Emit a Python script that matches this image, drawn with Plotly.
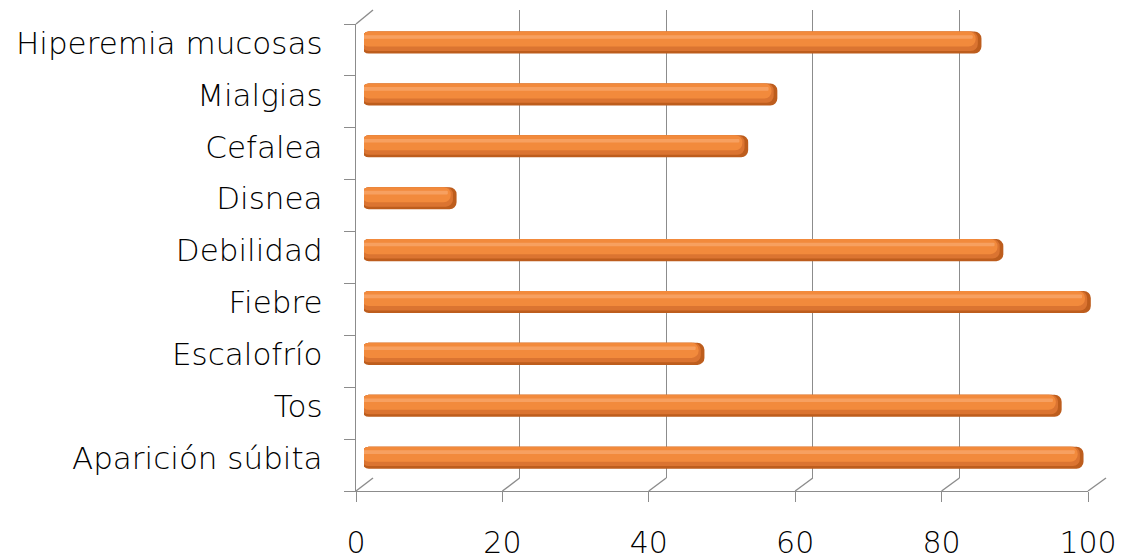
import plotly.graph_objects as go

# ---- data (bottom to top) ----
categories = ["Aparición súbita", "Tos", "Escalofrío", "Fiebre", "Debilidad",
              "Disnea", "Cefalea", "Mialgias", "Hiperemia mucosas"]
values = [99, 96, 47, 100, 88, 13, 53, 57, 85]
x_ticks = [0, 20, 40, 60, 80, 100]

W, H = 1122, 560
FONT = "DejaVu Sans"
GRID = "#8c8c8c"

def px(x):
    return x / W

def py(y):
    return 1 - y / H

# geometry of the pseudo-3D frame (pixels)
FRONT_X0, FRONT_X1 = 356, 1088      # front floor edge (labels)
BACK_X0, BACK_X1 = 373, 1106        # back wall (gridlines)
BAR_X0, BAR_X1 = 364, 1093          # bars (middle depth)
FRONT_Y0, FRONT_Y1 = 24, 491        # front left edge (top, bottom)
BACK_Y0, BACK_Y1 = 10, 478          # back wall (top, bottom)

fig = go.Figure()

fig.add_trace(go.Scatter(x=[None], y=[None], xaxis="x", yaxis="y",
                         showlegend=False, hoverinfo="skip"))
fig.add_trace(go.Scatter(x=[None], y=[None], xaxis="x2", yaxis="y2",
                         showlegend=False, hoverinfo="skip"))

# cylinder-like bars built from layered bars (width, offset, color, trim)
layers = [
    (0.425, -0.070, "#BD5D1D", 0.0),
    (0.375, -0.020, "#DB7431", 0.5),
    (0.290, 0.065, "#F28A3C", 0.8),
    (0.070, 0.215, "#F7A060", 1.2),
]
for w, off, col, trim in layers:
    fig.add_trace(go.Bar(
        x=[v - trim for v in values], y=categories, orientation="h",
        base=-0.3,
        xaxis="x3", yaxis="y3", width=w, offset=off,
        marker=dict(color=col, line=dict(width=0), cornerradius=7),
        showlegend=False, hoverinfo="skip"))

layout = dict(
    margin=dict(l=0, r=0, t=0, b=0, pad=0),
    paper_bgcolor="white", plot_bgcolor="rgba(0,0,0,0)",
    barmode="overlay",
    font=dict(family=FONT, color="black"),
    xaxis=dict(domain=[px(BACK_X0), px(BACK_X1)], range=[0, 100], anchor="y",
               tickvals=x_ticks, showticklabels=False, ticks="",
               showgrid=True, gridcolor=GRID, gridwidth=1.4, automargin=False,
               zeroline=False, showline=False, fixedrange=True),
    yaxis=dict(domain=[py(BACK_Y1), py(BACK_Y0)], range=[0, 1], anchor="x",
               showgrid=False, showticklabels=False, zeroline=False,
               showline=False, ticks="", automargin=False),
    xaxis2=dict(domain=[px(FRONT_X0), px(FRONT_X1)], range=[0, 100], anchor="y2",
                tickvals=x_ticks, ticks="outside", ticklen=10, tickwidth=1.4,
                tickcolor=GRID, showline=True, linecolor=GRID, linewidth=1.4,
                showgrid=False, zeroline=False, automargin=False,
                tickfont=dict(size=30, family=FONT, color="black", weight=300),
                ticklabelstandoff=15),
    yaxis2=dict(domain=[py(FRONT_Y1), py(FRONT_Y0)], anchor="x2",
                type="category", categoryorder="array", categoryarray=categories,
                range=[-0.5, len(categories) - 0.5],
                tickson="boundaries", ticks="outside", ticklen=11, tickwidth=1.4,
                tickcolor=GRID, showline=True, linecolor=GRID, linewidth=1.4,
                showgrid=False, zeroline=False, automargin=False,
                tickfont=dict(size=31, family=FONT, color="black", weight=300),
                ticklabelstandoff=26, ticklabelshift=-7),
    xaxis3=dict(domain=[px(BAR_X0), px(BAR_X1)], range=[0, 100], anchor="y3",
                visible=False, fixedrange=True, automargin=False),
    yaxis3=dict(domain=[py(FRONT_Y1), py(FRONT_Y0)], anchor="x3",
                type="category", categoryorder="array", categoryarray=categories,
                range=[-0.5, len(categories) - 0.5], visible=False, automargin=False),
)

shapes = []
for v in x_ticks:
    bx = BACK_X0 + (BACK_X1 - BACK_X0) * v / 100
    fx = FRONT_X0 + (FRONT_X1 - FRONT_X0) * v / 100
    shapes.append(dict(type="line", xref="paper", yref="paper",
                       x0=px(bx), y0=py(BACK_Y1), x1=px(fx), y1=py(FRONT_Y1),
                       line=dict(color=GRID, width=1.4), layer="below"))
shapes.append(dict(type="line", xref="paper", yref="paper",
                   x0=px(FRONT_X0), y0=py(FRONT_Y0), x1=px(BACK_X0), y1=py(BACK_Y0),
                   line=dict(color=GRID, width=1.4), layer="below"))
layout["shapes"] = shapes

fig.update_layout(**layout)
fig.write_html("out.html")
